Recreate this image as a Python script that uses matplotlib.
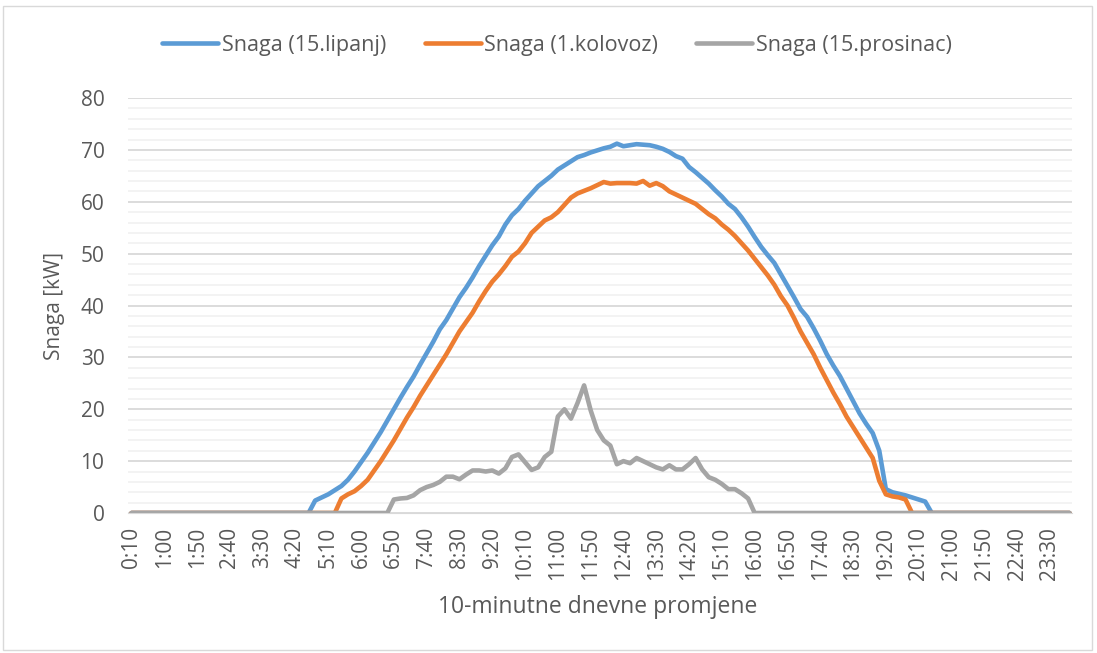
import matplotlib
matplotlib.use("Agg")
import matplotlib.pyplot as plt
from matplotlib.patches import Rectangle
import numpy as np

# 10-minute intervals from 0:10 to 24:00 (144 points)
times = []
for k in range(144):
    m = 10 * (k + 1)
    times.append(f"{m // 60}:{m % 60:02d}")

lipanj = [0]*28 + [
    2.4, 3.0, 3.6, 4.4, 5.2, 6.4, 8.0, 9.8, 11.6, 13.6,
    15.6, 17.8, 20.0, 22.2, 24.3, 26.3, 28.6, 30.8, 33.0, 35.4,
    37.2, 39.4, 41.6, 43.4, 45.4, 47.6, 49.6, 51.6, 53.3, 55.6,
    57.4, 58.6, 60.2, 61.6, 63.0, 64.0, 65.0, 66.2, 67.0, 67.8,
    68.6, 69.0, 69.5, 69.9, 70.3, 70.6, 71.2, 70.7, 70.9, 71.1,
    71.0, 70.9, 70.6, 70.2, 69.6, 68.8, 68.3, 66.7, 65.7, 64.6,
    63.5, 62.2, 61.0, 59.6, 58.6, 57.0, 55.2, 53.2, 51.3, 49.7,
    48.2, 46.0, 43.8, 41.6, 39.3, 37.8, 35.6, 33.2, 30.6, 28.4,
    26.4, 24.0, 21.6, 19.2, 17.2, 15.4, 12.0, 4.6, 4.0, 3.7,
    3.4, 3.0, 2.6, 2.2] + [0]*22

kolovoz = [0]*32 + [
    2.8, 3.6, 4.2, 5.2, 6.4, 8.2, 10.0, 12.0, 14.0, 16.2,
    18.4, 20.4, 22.6, 24.6, 26.6, 28.6, 30.6, 32.8, 35.0, 36.8,
    38.6, 40.8, 42.8, 44.6, 46.0, 47.6, 49.4, 50.4, 52.0, 54.0,
    55.2, 56.4, 57.0, 58.0, 59.4, 60.8, 61.6, 62.1, 62.6, 63.2,
    63.8, 63.5, 63.6, 63.6, 63.6, 63.5, 64.0, 63.1, 63.6, 63.0,
    62.0, 61.4, 60.8, 60.2, 59.6, 58.6, 57.6, 56.8, 55.6, 54.6,
    53.4, 52.0, 50.6, 49.0, 47.4, 45.8, 44.0, 41.8, 40.0, 37.6,
    35.0, 32.8, 30.6, 28.0, 25.6, 23.2, 21.0, 18.6, 16.6, 14.6,
    12.6, 10.6, 6.2, 3.6, 3.2, 3.0, 2.6] + [0]*25

prosinac = [0]*40 + [
    2.6, 2.8, 2.9, 3.4, 4.4, 5.0, 5.4, 6.0, 7.0, 7.0,
    6.5, 7.4, 8.2, 8.2, 8.0, 8.2, 7.6, 8.6, 10.8, 11.3,
    9.8, 8.3, 8.8, 10.8, 11.8, 18.6, 20.0, 18.2, 21.2, 24.6,
    19.8, 16.0, 14.0, 13.0, 9.4, 10.0, 9.6, 10.6, 10.0, 9.4,
    8.8, 8.4, 9.2, 8.4, 8.4, 9.4, 10.6, 8.4, 6.9, 6.4,
    5.6, 4.6, 4.6, 3.8, 2.8] + [0]*49

series = [
    ("Snaga (15.lipanj)", lipanj, "#5B9BD5"),
    ("Snaga (1.kolovoz)", kolovoz, "#ED7D31"),
    ("Snaga (15.prosinac)", prosinac, "#A5A5A5"),
]

plt.rcParams['font.family'] = ['Open Sans', 'DejaVu Sans']

W, H = 1097, 653
fig = plt.figure(figsize=(W/100, H/100), dpi=100)
fig.patch.set_facecolor("white")
fig.patches.append(Rectangle((3/W, 3/H), 1 - 8/W, 1 - 9/H, transform=fig.transFigure,
                             fill=False, edgecolor="#D9D9D9", linewidth=1.0))

ax = fig.add_axes([128/W, (H-513)/H, 944/W, 415/H])
x = np.arange(len(times))

ax.set_ylim(0, 80)
ax.set_xlim(-0.53, 143.38)
ax.set_yticks(np.arange(0, 81, 10))
ax.set_yticks(np.arange(0, 81, 2), minor=True)
ax.grid(True, which="major", axis="y", color="#D9D9D9", linewidth=1.3)
ax.grid(True, which="minor", axis="y", color="#F0F0F0", linewidth=1.1)
ax.set_axisbelow(True)
for s in ["top", "right", "left"]:
    ax.spines[s].set_visible(False)
ax.spines["bottom"].set_color("#D9D9D9")

for name, vals, col in series:
    ax.plot(x, vals, color=col, linewidth=3.3, label=name, solid_capstyle="round",
            solid_joinstyle="round")

tick_idx = list(range(0, 144, 5))
ax.set_xticks(tick_idx)
ax.set_xticklabels([times[i] for i in tick_idx], rotation=90)
ax.tick_params(axis="both", which="both", length=0, colors="#595959", labelsize=15)
ax.tick_params(axis="x", pad=10)
ax.tick_params(axis="y", pad=17)

ax.set_ylabel("Snaga [kW]", fontsize=15, color="#595959", labelpad=11)
fig.text(598/W, 1 - 607/H, "10-minutne dnevne promjene", fontsize=16.5,
         color="#595959", ha="center", va="center")

leg = fig.legend(loc="center", bbox_to_anchor=(557/W, 1 - 45/H), ncol=3, frameon=False,
                 fontsize=15.5, handlelength=2.6, columnspacing=1.8, handletextpad=0.15)
for t in leg.get_texts():
    t.set_color("#595959")

fig.savefig("out.png", dpi=100, facecolor="white")
